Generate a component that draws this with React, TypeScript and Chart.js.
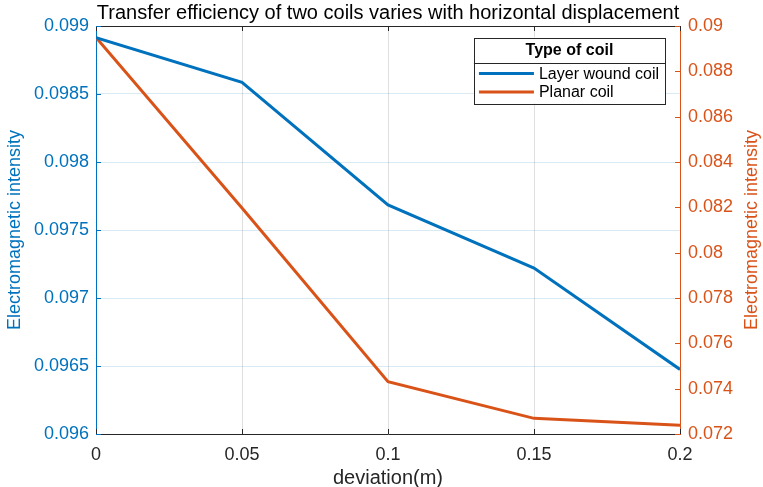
import React, { useEffect, useRef } from 'react';
import { Chart, registerables } from 'chart.js';

Chart.register(...registerables);

const deviation = [0, 0.05, 0.1, 0.15, 0.2];
const layerWoundCoil = [0.098915, 0.098585, 0.097685, 0.09722, 0.096475];
const planarCoil = [0.08949, 0.08197, 0.07431, 0.07269, 0.07239];

const xTicks = [0, 0.05, 0.1, 0.15, 0.2];
const leftTicks = [0.096, 0.0965, 0.097, 0.0975, 0.098, 0.0985, 0.099];
const rightTicks = [0.072, 0.074, 0.076, 0.078, 0.08, 0.082, 0.084, 0.086, 0.088, 0.09];

const seriesNames = ['Layer wound coil', 'Planar coil'];
const legendTitle = 'Type of coil';
const chartTitle = 'Transfer efficiency of two coils varies with horizontal displacement';
const xLabel = 'deviation(m)';
const yLeftLabel = 'Electromagnetic intensity';
const yRightLabel = 'Electromagnetic intensity';

const BLUE = '#0072BD';
const ORANGE = '#D95319';
const DARK = '#262626';
const FONT = '"Liberation Sans", Arial, Helvetica, sans-serif';

const fmt = (v: any) => String(parseFloat(Number(v).toFixed(5)));

const decorPlugin = {
  id: 'decor',
  afterDraw(chart: any) {
    const { ctx, chartArea: a, scales } = chart;
    ctx.save();
    ctx.lineWidth = 1;
    // top border
    ctx.strokeStyle = DARK;
    ctx.beginPath();
    ctx.moveTo(a.left, Math.round(a.top) + 0.5);
    ctx.lineTo(a.right, Math.round(a.top) + 0.5);
    ctx.stroke();
    const tl = 5;
    // x inward ticks
    scales.x.ticks.forEach((t: any) => {
      const px = Math.round(scales.x.getPixelForValue(t.value)) + 0.5;
      ctx.beginPath();
      ctx.moveTo(px, a.bottom);
      ctx.lineTo(px, a.bottom - tl);
      ctx.moveTo(px, a.top);
      ctx.lineTo(px, a.top + tl);
      ctx.stroke();
    });
    ctx.strokeStyle = BLUE;
    scales.y.ticks.forEach((t: any) => {
      const py = Math.round(scales.y.getPixelForValue(t.value)) + 0.5;
      ctx.beginPath();
      ctx.moveTo(a.left, py);
      ctx.lineTo(a.left + tl, py);
      ctx.stroke();
    });
    ctx.strokeStyle = ORANGE;
    scales.y1.ticks.forEach((t: any) => {
      const py = Math.round(scales.y1.getPixelForValue(t.value)) + 0.5;
      ctx.beginPath();
      ctx.moveTo(a.right, py);
      ctx.lineTo(a.right - tl, py);
      ctx.stroke();
    });

    // chart title
    ctx.fillStyle = '#000';
    ctx.font = `20px ${FONT}`;
    ctx.textAlign = 'center';
    ctx.textBaseline = 'middle';
    ctx.fillText(chartTitle, (a.left + a.right) / 2, a.top - 13);

    // right axis title (reads bottom to top)
    ctx.font = `18px ${FONT}`;
    ctx.save();
    ctx.translate(a.right + 72, (a.top + a.bottom) / 2);
    ctx.rotate(-Math.PI / 2);
    ctx.fillStyle = ORANGE;
    ctx.fillText(yRightLabel, 0, 0);
    ctx.restore();

    // legend
    const colors = chart.data.datasets.map((d: any) => d.borderColor);
    ctx.font = `16px ${FONT}`;
    const maxW = Math.max(...seriesNames.map((n) => ctx.measureText(n).width));
    const w = 5 + 55 + 5 + maxW + 6;
    const h = 66;
    const right = a.right - 15;
    const left = right - w;
    const top = a.top + 11.5;
    ctx.fillStyle = '#fff';
    ctx.fillRect(left, top, w, h);
    ctx.strokeStyle = DARK;
    ctx.lineWidth = 1;
    ctx.strokeRect(Math.round(left) + 0.5, Math.round(top) + 0.5, Math.round(w), h);
    ctx.beginPath();
    ctx.moveTo(left, Math.round(top + 25) + 0.5);
    ctx.lineTo(left + w, Math.round(top + 25) + 0.5);
    ctx.stroke();
    ctx.fillStyle = '#000';
    ctx.font = `bold 16px ${FONT}`;
    ctx.textAlign = 'center';
    ctx.fillText(legendTitle, left + w / 2, top + 13);
    ctx.font = `16px ${FONT}`;
    ctx.textAlign = 'left';
    seriesNames.forEach((n, i) => {
      const cy = top + 36 + i * 18.4;
      ctx.strokeStyle = colors[i];
      ctx.lineWidth = 3;
      ctx.beginPath();
      ctx.moveTo(left + 5, cy);
      ctx.lineTo(left + 60, cy);
      ctx.stroke();
      ctx.fillStyle = '#000';
      ctx.fillText(n, left + 65, cy + 1);
    });
    ctx.restore();
  },
};

export default function App() {
  const ref = useRef<HTMLCanvasElement>(null);
  useEffect(() => {
    document.body.style.margin = '0';
    const chart = new Chart(ref.current as HTMLCanvasElement, {
      type: 'line',
      data: {
        datasets: [
          {
            label: seriesNames[0],
            data: deviation.map((x, i) => ({ x, y: layerWoundCoil[i] })),
            borderColor: BLUE,
            backgroundColor: BLUE,
            borderWidth: 3,
            pointRadius: 0,
            tension: 0,
            yAxisID: 'y',
          },
          {
            label: seriesNames[1],
            data: deviation.map((x, i) => ({ x, y: planarCoil[i] })),
            borderColor: ORANGE,
            backgroundColor: ORANGE,
            borderWidth: 3,
            pointRadius: 0,
            tension: 0,
            yAxisID: 'y1',
          },
        ],
      },
      options: {
        animation: false,
        responsive: true,
        maintainAspectRatio: false,
        layout: { padding: { top: 26 } },
        plugins: {
          legend: { display: false },
          title: { display: false },
          tooltip: { enabled: false },
        },
        scales: {
          x: {
            type: 'linear',
            min: 0,
            max: 0.2,
            afterBuildTicks: (s: any) => {
              s.ticks = xTicks.map((v) => ({ value: v }));
            },
            afterFit: (s: any) => {
              s.height = 53;
            },
            ticks: {
              autoSkip: false,
              maxRotation: 0,
              padding: 10,
              color: DARK,
              font: { family: FONT, size: 18 },
              callback: (v: any) => fmt(v),
            },
            grid: { color: 'rgba(38,38,38,0.15)', drawTicks: false },
            border: { color: DARK },
            title: {
              display: true,
              text: xLabel,
              color: DARK,
              font: { family: FONT, size: 20 },
              padding: { top: 0, bottom: -3 },
            },
          },
          y: {
            type: 'linear',
            position: 'left',
            min: 0.096,
            max: 0.099,
            afterBuildTicks: (s: any) => {
              s.ticks = leftTicks.map((v) => ({ value: v }));
            },
            afterFit: (s: any) => {
              s.width = 96;
            },
            ticks: {
              padding: 7,
              color: BLUE,
              font: { family: FONT, size: 18 },
              callback: (v: any) => fmt(v),
            },
            grid: { color: 'rgba(0,114,189,0.15)', drawTicks: false },
            border: { color: BLUE },
            title: {
              display: true,
              text: yLeftLabel,
              color: BLUE,
              font: { family: FONT, size: 18 },
              padding: { top: 4, bottom: 0 },
            },
          },
          y1: {
            type: 'linear',
            position: 'right',
            min: 0.072,
            max: 0.09,
            afterBuildTicks: (s: any) => {
              s.ticks = rightTicks.map((v) => ({ value: v }));
            },
            afterFit: (s: any) => {
              s.width = 83;
            },
            ticks: {
              padding: 8,
              color: ORANGE,
              font: { family: FONT, size: 18 },
              callback: (v: any) => fmt(v),
            },
            grid: { drawOnChartArea: false, drawTicks: false },
            border: { color: ORANGE },
          },
        },
      },
      plugins: [decorPlugin],
    });
    return () => chart.destroy();
  }, []);
  return (
    <div style={{ position: 'relative', width: 763, height: 487 }}>
      <canvas ref={ref} />
    </div>
  );
}
